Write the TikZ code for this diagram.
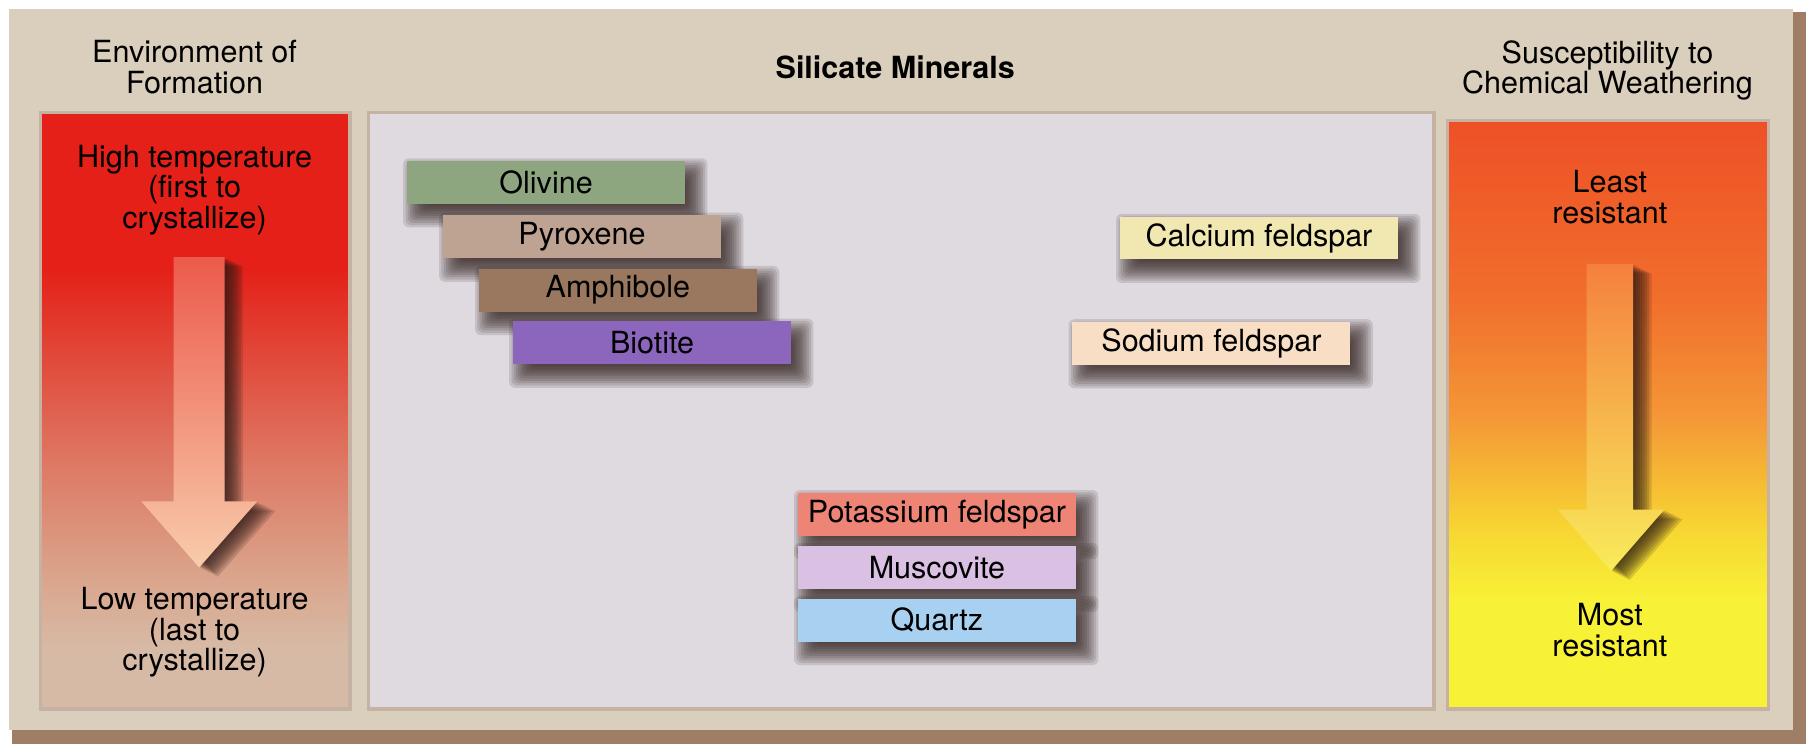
\documentclass[tikz,border=0pt]{standalone}
\usepackage{fontspec}
\setmainfont{TeX Gyre Heros}
\usetikzlibrary{positioning}

\definecolor{framebeige}{RGB}{218,206,188}
\definecolor{framedark}{RGB}{160,126,102}
\definecolor{panelgrey}{RGB}{222,218,224}
\definecolor{hotred}{RGB}{228,32,24}
\definecolor{deepred}{RGB}{225,70,55}
\definecolor{warmred}{RGB}{222,120,100}
\definecolor{pinktan}{RGB}{218,165,140}
\definecolor{cooltan}{RGB}{215,186,166}
\definecolor{fierce}{RGB}{238,80,38}
\definecolor{flame}{RGB}{241,110,44}
\definecolor{amber}{RGB}{244,150,55}
\definecolor{gold}{RGB}{247,215,50}
\definecolor{sunyellow}{RGB}{248,242,54}
\definecolor{shadowbrown}{RGB}{40,24,20}
\definecolor{olivinecol}{RGB}{142,166,128}
\definecolor{pyroxenecol}{RGB}{190,162,146}
\definecolor{amphibolecol}{RGB}{154,120,96}
\definecolor{biotitecol}{RGB}{140,102,188}
\definecolor{calciumcol}{RGB}{240,232,176}
\definecolor{sodiumcol}{RGB}{248,222,196}
\definecolor{potassiumcol}{RGB}{238,132,118}
\definecolor{muscovitecol}{RGB}{218,192,226}
\definecolor{quartzcol}{RGB}{168,208,240}

% panel shadings (path maps to 25bp..75bp)
\pgfdeclareverticalshading{formation}{100bp}{color(0bp)=(cooltan); color(30bp)=(cooltan);
  color(36bp)=(pinktan); color(45.6bp)=(warmred); color(55bp)=(deepred);
  color(62bp)=(hotred); color(100bp)=(hotred)}
\pgfdeclareverticalshading{weathering}{100bp}{color(0bp)=(sunyellow); color(34bp)=(sunyellow);
  color(40bp)=(gold); color(50bp)=(amber); color(60bp)=(flame);
  color(75bp)=(fierce); color(100bp)=(fierce)}

\pgfdeclarelayer{backdrop}
\pgfdeclarelayer{shadowlayer}
\pgfsetlayers{backdrop,shadowlayer,main}

% outlines of the two big arrows
\def\formationarrow{(150,222) -- (194,222) -- (194,433) -- (222,433) -- (172,490) -- (122,433) -- (150,433) -- cycle}
\def\weatheringarrow{(1370,228) -- (1410,228) -- (1410,440) -- (1437,440) -- (1391,493) -- (1345,440) -- (1370,440) -- cycle}

\begin{document}
\begin{tikzpicture}[
    x=0.2mm, y=-0.2mm,
    every node/.style={font=\fontsize{15}{15}\selectfont, align=center, text=black},
    panel/.style={draw=framedark!60, line width=0.6mm},
    mineral/.style={rectangle, minimum width=48mm, minimum height=7.4mm, inner sep=0pt},
    softshadow/.style={fill=shadowbrown, opacity=0.13, rounded corners=1mm},
    arrowshadow/.style={fill=shadowbrown, opacity=0.16}
]

% Frame and panels
\begin{pgfonlayer}{backdrop}
    \fill[white] (0,0) rectangle (1568,648);
    \fill[framedark] (10,10) rectangle (1559,642);
    \fill[framebeige] (8,8) rectangle (1548,630);
    \path[panel, shading=formation] (35,97) rectangle (302,612);
    \path[panel, fill=panelgrey] (318,97) rectangle (1238,612);
    \path[panel, shading=weathering] (1250,104) rectangle (1527,612);
\end{pgfonlayer}

% Headings
    \node (formation) at (168,58) {Environment of\\Formation};
    \node[font=\fontsize{15}{15}\selectfont\bfseries] (silicates) at (773,58) {Silicate Minerals};
    \node (weathering) at (1388,61) {Susceptibility to\\Chemical Weathering};

% Left column
    \node (hightemp) at (168,164) {High temperature\\(first to\\crystallize)};
    \node (lowtemp) at (168,546) {Low temperature\\(last to\\crystallize)};
    \foreach \s in {2,4,...,16}
        \fill[arrowshadow, shift={(\s,0.5*\s)}] \formationarrow;
    \shade[top color={rgb,255:red,236;green,90;blue,75}, bottom color={rgb,255:red,248;green,204;blue,172}]
        \formationarrow;

% Right column
    \node (least) at (1390,170) {Least\\resistant};
    \node (most) at (1390,544) {Most\\resistant};
    \foreach \s in {2,4,...,16}
        \fill[arrowshadow, shift={(\s,0.5*\s)}] \weatheringarrow;
    \shade[top color={rgb,255:red,245;green,128;blue,62}, bottom color={rgb,255:red,248;green,236;blue,90}]
        \weatheringarrow;

% Minerals
    \node[mineral, fill=olivinecol] (olivine) at (471.5,157.5) {Olivine};
    \node[mineral, fill=pyroxenecol] (pyroxene) at (502.5,204.5) {Pyroxene};
    \node[mineral, fill=amphibolecol] (amphibole) at (533.5,250.5) {Amphibole};
    \node[mineral, fill=biotitecol] (biotite) at (563,296) {Biotite};
    \node[mineral, fill=calciumcol] (calcium) at (1087,205.5) {Calcium feldspar};
    \node[mineral, fill=sodiumcol] (sodium) at (1046,296.5) {Sodium feldspar};
    \node[mineral, fill=potassiumcol] (potassium) at (809,444) {Potassium feldspar};
    \node[mineral, fill=muscovitecol, below=1.6mm of potassium] (muscovite) {Muscovite};
    \node[mineral, fill=quartzcol, below=1.6mm of muscovite] (quartz) {Quartz};

% Shadows under the mineral boxes
\begin{pgfonlayer}{shadowlayer}
    \foreach \m in {olivine,pyroxene,amphibole,biotite,calcium,sodium,potassium,muscovite,quartz}
        \foreach \e in {2.2,1.8,...,-2.2}
            \fill[softshadow] ([shift={({1.6mm-(\e)*1mm},{-1.8mm-(\e)*1mm})}]\m.south west)
                rectangle ([shift={({1.6mm+(\e)*1mm},{-1.8mm+(\e)*1mm})}]\m.north east);
\end{pgfonlayer}
\end{tikzpicture}
\end{document}
